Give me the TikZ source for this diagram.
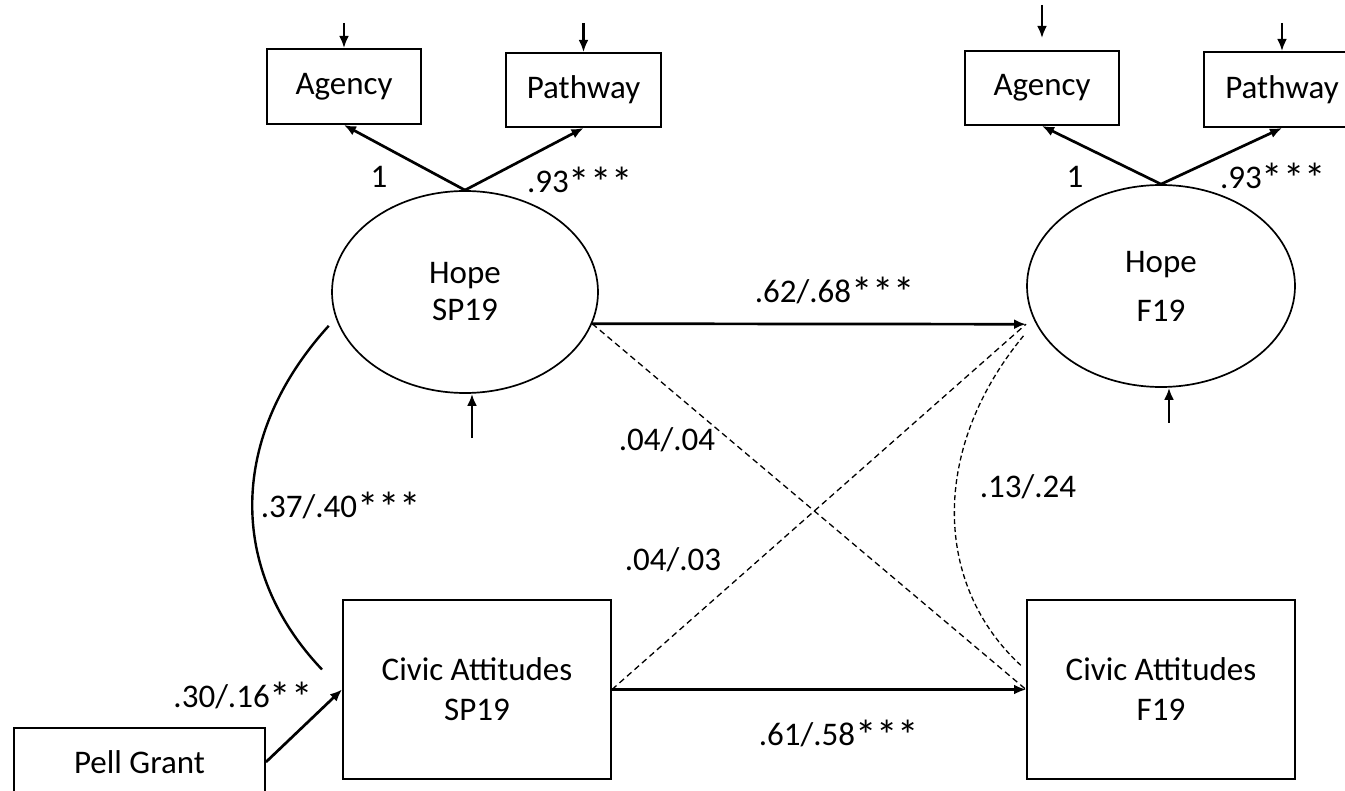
\documentclass[tikz,border=0pt]{standalone}
\usepackage{fontspec}
\setmainfont{Carlito}
\usepackage{tikz}
\usetikzlibrary{shapes.geometric, arrows.meta}
\newcommand{\sg}{\raisebox{-0.14em}{\scalebox{1.3}{*}}}
\tikzset{
	>={Latex[length=6pt,width=5pt]},
	obs/.style={draw, line width=1pt, rectangle, inner sep=0pt, align=center},
	lat/.style={draw, line width=0.85pt, ellipse, inner sep=0pt, align=center, minimum width=133pt, minimum height=101pt},
	lbl/.style={inner sep=0pt},
	effect/.style={->, line width=1.35pt},
	weak/.style={line width=0.65pt, dash pattern=on 3pt off 2pt},
}

\begin{document}
\begin{tikzpicture}[x=0.5pt, y=-0.5pt, font=\fontsize{16.5}{20}\selectfont]
			\useasboundingbox (0,0) rectangle (1345,791);

			\node[obs, minimum width=77pt, minimum height=37.5pt] (agencyA) at (344,86.5) {\raisebox{-2pt}{Agency}};
			\node[obs, minimum width=77.5pt, minimum height=37pt] (pathA) at (583.5,90) {Pathway};
			\node[obs, minimum width=77pt, minimum height=37pt] (agencyB) at (1042,88) {\raisebox{-2pt}{Agency}};
			\node[obs, minimum width=78pt, minimum height=37.5pt] (pathB) at (1282,89.5) {Pathway};
			\node[lat] (hopeA) at (465,292) {Hope\\[-1.5pt]SP19};
			\node[lat, minimum width=134pt] (hopeB) at (1161,286) {Hope\\[4.5pt]F19};
			\node[obs, minimum width=134pt, minimum height=89.5pt] (civA) at (477,689.5) {Civic Attitudes\\SP19};
			\node[obs, minimum width=134pt, minimum height=89.5pt] (civB) at (1161,689.5) {Civic Attitudes\\F19};
			\node[obs, minimum width=125.5pt, minimum height=34pt] (pell) at (139.5,762) {Pell Grant};

			\coordinate (eAgA) at (344,23);
			\coordinate (ePaA) at (583.5,23);
			\coordinate (eAgB) at (1042,5);
			\coordinate (ePaB) at (1282,23);
			\coordinate (eHopeA) at (472,438);
			\coordinate (eHopeB) at (1169,423);
			\draw[effect] (eAgA) -- (agencyA.north);
			\draw[effect] (ePaA) -- (pathA.north);
			\draw[effect] (eAgB) -- ([yshift=6pt]agencyB.north);
			\draw[effect] (ePaB) -- (pathB.north);
			\draw[effect] (eHopeA) -- (eHopeA |- hopeA.south);
			\draw[effect] (eHopeB) -- (eHopeB |- hopeB.south);

			\draw[effect] (hopeA.north) -- (agencyA.south);
			\draw[effect] (hopeA.north) -- (pathA.south);
			\draw[effect] (hopeB.north) -- (agencyB.south);
			\draw[effect] (hopeB.north) -- (pathB.south);

			\draw[effect] (hopeA.346) -- ([xshift=-5pt]hopeB.197);
			\draw[effect] (civA.east) -- (civB.west);
			\draw[effect] (pell.east) -- (civA.west);
			\draw[weak] (hopeA.346) -- (civB.west);
			\draw[weak] (civA.east) -- ([xshift=-5pt]hopeB.197);

			\draw[line width=1.2pt] ([xshift=-5pt]hopeA.195) .. controls +(-100,110) and +(-95,-100) .. ([shift={(-10pt,10pt)}]civA.west);
			\draw[weak, dash pattern=on 2.5pt off 1.5pt] ([xshift=-10pt]hopeB.203) .. controls +(-94,114) and +(-87,-80) .. ([shift={(-2.5pt,12pt)}]civB.west);

			\node[lbl] (lAgA) at (379,177) {1};
			\node[lbl] (lPaA) at (580,182) {.93\sg\sg\sg};
			\node[lbl] (lAgB) at (1075,177) {1};
			\node[lbl] (lPaB) at (1273,178) {.93\sg\sg\sg};
			\node[lbl] (lHope) at (835,292) {.62/.68\sg\sg\sg};
			\node[lbl] (lHC) at (667,440) {.04/.04};
			\node[lbl] (lCH) at (673,560) {.04/.03};
			\node[lbl] (lCovB) at (1028,487) {.13/.24};
			\node[lbl] (lCovA) at (341,507) {.37/.40\sg\sg\sg};
			\node[lbl] (lPell) at (243,697) {.30/.16\sg\sg};
			\node[lbl] (lCiv) at (839,735) {.61/.58\sg\sg\sg};
		\end{tikzpicture}
\end{document}
